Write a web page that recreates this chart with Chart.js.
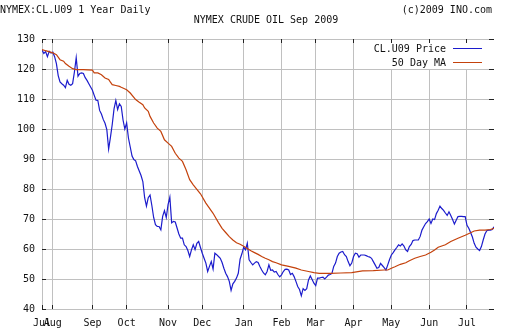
<!DOCTYPE html>
<html>
<head>
<meta charset="utf-8">
<script src="https://cdn.jsdelivr.net/npm/chart.js@4/dist/chart.umd.min.js"></script>
<style>
    html, body { margin: 0; padding: 0; background: #fff; }
</style>
</head>
<body>
<canvas id="c" width="512" height="336"></canvas>
<script>
// daily settle, one value per trading day (index 0 = late Jul 2008)
const priceValues = [
    126.3, 125.2, 125.8, 124.1, 125.9, 125.3, 125.6, 124.1, 121.8, 117.8,
    115.7, 115.1, 114.6, 113.8, 116.2, 114.9, 114.6, 115.1, 119.0, 123.8,
    117.6, 118.5, 118.7, 118.5, 117.1, 116.2, 115.1, 114.0, 112.9, 111.2,
    109.6, 109.5, 106.2, 105.0, 103.2, 101.9, 99.8, 93.3, 97.2, 101.5,
    106.7, 109.5, 106.5, 108.4, 107.5, 103.0, 100.0, 102.0, 97.0, 94.0,
    91.0, 89.8, 89.4, 87.5, 86.0, 84.5, 82.5, 77.1, 74.3, 77.1,
    78.0, 74.5, 70.5, 68.1, 67.5, 67.5, 66.4, 70.9, 72.8, 70.5,
    74.8, 77.3, 68.7, 69.2, 69.0, 67.0, 65.0, 63.6, 63.6, 61.4,
    60.8, 59.5, 57.5, 59.7, 61.4, 59.8, 61.9, 62.5, 60.5, 58.6,
    56.9, 55.3, 52.5, 54.2, 55.8, 53.3, 58.6, 58.1, 57.5, 56.9,
    55.5, 53.6, 51.9, 50.8, 49.2, 46.2, 48.4, 49.2, 50.3, 51.9,
    56.6, 58.4, 60.6, 59.7, 61.9, 56.4, 55.5, 54.7, 55.3, 55.8,
    55.5, 54.2, 53.0, 52.0, 51.4, 52.5, 54.7, 52.9, 53.0, 52.3,
    52.5, 51.5, 50.7, 51.4, 52.5, 53.2, 53.3, 53.0, 51.5, 51.9,
    50.8, 49.2, 47.5, 46.5, 44.4, 46.8, 46.2, 46.8, 49.7, 51.0,
    49.8, 48.6, 47.8, 50.3, 50.3, 50.5, 50.6, 50.0, 50.6, 51.3,
    51.5, 51.9, 54.2, 55.3, 57.5, 58.6, 59.0, 59.2, 58.1, 57.5,
    55.8, 54.4, 55.3, 57.5, 58.6, 58.4, 57.3, 58.0, 58.0, 58.0,
    57.8, 57.5, 57.3, 56.9, 55.8, 54.7, 53.6, 53.8, 55.2, 54.5,
    53.8, 53.0, 54.7, 56.5, 58.0, 58.8, 59.7, 60.5, 61.4, 61.0,
    61.7, 61.0, 59.7, 59.2, 60.8, 61.5, 62.8, 63.0, 63.0, 63.0,
    64.2, 66.3, 67.4, 68.5, 69.1, 70.0, 68.5, 70.0, 69.8, 71.8,
    72.9, 74.3, 73.5, 72.9, 72.0, 71.2, 72.4, 71.2, 69.8, 68.3,
    69.6, 70.8, 70.9, 70.9, 70.8, 70.8, 67.9, 66.9, 65.5, 64.0,
    61.9, 60.6, 60.0, 59.5, 60.8, 63.0, 65.0, 66.1, 66.3, 66.3,
    66.5, 67.4
];

// 50 day moving average, read at a few trading-day indices
const maDays = [
    0, 2, 6, 8, 10, 12, 13, 15, 17, 19, 23, 28, 29, 31, 33, 35, 37, 38, 39, 41,
    43, 44, 47, 49, 52, 54, 56, 57, 59, 60, 62, 64, 66, 68, 70, 72, 74, 76, 78, 80,
    82, 84, 86, 88, 91, 95, 98, 100, 102, 104, 106, 108, 110, 112, 114, 116, 118, 120, 122, 124,
    126, 128, 130, 133, 137, 141, 144, 148, 151, 154, 160, 166, 172, 178, 184, 190, 192, 194, 196, 199,
    202, 204, 207, 210, 213, 216, 218, 220, 224, 227, 231, 235, 238, 240, 243, 246, 249, 251
];
const maValues = [
    126.5, 126.1, 125.4, 124.8, 123.1, 122.6, 121.8, 120.9, 120.1, 119.8, 119.8, 119.6, 118.7, 118.7, 118.1, 117.0, 116.5, 115.6, 114.8, 114.5,
    114.2, 113.9, 113.1, 112.0, 109.8, 108.9, 108.1, 107.0, 105.9, 104.2, 102.0, 100.3, 99.2, 96.4, 95.3, 94.2, 91.9, 90.3, 89.2, 86.4,
    83.1, 81.4, 79.9, 78.4, 75.3, 71.9, 68.8, 66.9, 65.5, 64.1, 63.0, 62.1, 61.6, 60.9, 60.2, 59.4, 58.8, 58.2, 57.5, 56.9,
    56.4, 55.8, 55.4, 54.7, 54.2, 53.6, 53.0, 52.5, 52.1, 51.9, 51.9, 52.0, 52.1, 52.7, 52.8, 53.0, 53.0, 53.6, 54.1, 54.9,
    55.4, 56.1, 56.9, 57.5, 58.0, 58.9, 59.7, 60.6, 61.4, 62.5, 63.6, 64.6, 65.4, 66.0, 66.3, 66.3, 66.5, 66.9
];

// first trading day of each month
const monthDays = [0, 6, 28, 47, 70, 89, 112, 133, 152, 173, 194, 215, 236];
const monthLabels = ['Jul', 'Aug', 'Sep', 'Oct', 'Nov', 'Dec', 'Jan', 'Feb', 'Mar', 'Apr', 'May', 'Jun', 'Jul'];
const yTicks = [40, 50, 60, 70, 80, 90, 100, 110, 120, 130];

const seriesNames = ['CL.U09 Price', '50 Day MA'];
const PRICE_COLOR = '#1c1ccc';
const MA_COLOR = '#c4420c';
const TEXT_COLOR = '#111';
const MONO = "'DejaVu Sans Mono', monospace";

function align(p) {
    return Math.round(p - 0.5) + 0.5;
}

// dark tick stubs on all four edges, plus header texts and legend
const decorations = {
    id: 'decorations',
    afterDraw(chart) {
        const { ctx, chartArea: a, scales: { x, y } } = chart;
        ctx.save();
        ctx.strokeStyle = '#222';
        ctx.lineWidth = 1;
        ctx.beginPath();
        monthDays.forEach(d => {
            const px = align(x.getPixelForValue(d));
            ctx.moveTo(px, a.top); ctx.lineTo(px, a.top + 4);
            ctx.moveTo(px, a.bottom); ctx.lineTo(px, a.bottom - 4);
        });
        yTicks.forEach(v => {
            const py = align(y.getPixelForValue(v));
            ctx.moveTo(a.left, py); ctx.lineTo(a.left + 4, py);
            ctx.moveTo(a.right - 5, py); ctx.lineTo(a.right, py);
        });
        ctx.stroke();

        ctx.font = `10px ${MONO}`;
        ctx.fillStyle = TEXT_COLOR;
        ctx.textBaseline = 'middle';
        ctx.textAlign = 'left';
        ctx.fillText('NYMEX:CL.U09 1 Year Daily', 0, 10);
        ctx.textAlign = 'right';
        ctx.fillText('(c)2009 INO.com', 492, 10);
        ctx.textAlign = 'center';
        ctx.fillText('NYMEX CRUDE OIL Sep 2009', 266, 20);

        // legend, top right inside the plot
        const lineEnd = a.right - 12;
        const lineStart = lineEnd - 29;
        const textRight = lineStart - 7;
        ctx.fillStyle = '#fff';
        ctx.fillRect(textRight - 74, a.top + 4, lineEnd - textRight + 78, 26);
        [PRICE_COLOR, MA_COLOR].forEach((col, i) => {
            const ly = a.top + 10 + i * 14;
            ctx.fillStyle = TEXT_COLOR;
            ctx.textAlign = 'right';
            ctx.fillText(seriesNames[i], textRight, ly);
            ctx.fillStyle = col;
            ctx.fillRect(lineStart, Math.round(ly) - 1, lineEnd - lineStart, 1);
        });
        ctx.restore();
    }
};

new Chart(document.getElementById('c'), {
    type: 'line',
    data: {
        datasets: [
            {
                label: seriesNames[1],
                data: maDays.map((d, i) => ({ x: d, y: maValues[i] })),
                borderColor: MA_COLOR,
                borderWidth: 1.2,
                pointRadius: 0,
                tension: 0
            },
            {
                label: seriesNames[0],
                data: priceValues.map((v, i) => ({ x: i, y: v })),
                borderColor: PRICE_COLOR,
                borderWidth: 1.2,
                pointRadius: 0,
                tension: 0
            }
        ]
    },
    options: {
        responsive: false,
        animation: false,
        layout: { padding: { top: 39, right: 18, left: 0, bottom: 0 } },
        plugins: { legend: { display: false }, tooltip: { enabled: false } },
        scales: {
            x: {
                type: 'linear',
                min: 0,
                max: 251,
                afterBuildTicks: s => { s.ticks = monthDays.map(v => ({ value: v })); },
                afterFit: s => { s.height = 27; },
                grid: { color: '#c0c0c0', lineWidth: 1, drawTicks: false },
                border: { display: false },
                ticks: {
                    autoSkip: false,
                    maxRotation: 0,
                    padding: 8,
                    color: TEXT_COLOR,
                    font: { family: MONO, size: 10 },
                    callback: (v, i) => monthLabels[i]
                }
            },
            y: {
                min: 40,
                max: 130,
                afterBuildTicks: s => { s.ticks = yTicks.map(v => ({ value: v })); },
                afterFit: s => { s.width = 42; },
                grid: { color: '#c0c0c0', lineWidth: 1, drawTicks: false },
                border: { display: false },
                ticks: {
                    padding: 7,
                    color: TEXT_COLOR,
                    font: { family: MONO, size: 10 }
                }
            }
        }
    },
    plugins: [decorations]
});
</script>
</body>
</html>
